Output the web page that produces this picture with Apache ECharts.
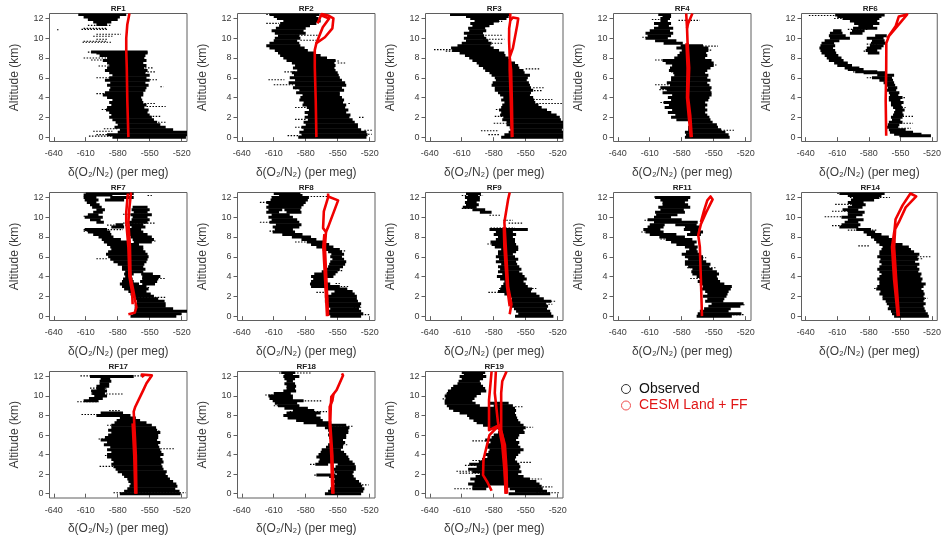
<!DOCTYPE html>
<html><head><meta charset="utf-8">
<style>html,body{margin:0;padding:0;background:#fff}#c{width:944px;height:536px}</style>
<script src="https://cdn.jsdelivr.net/npm/echarts@6/dist/echarts.min.js"></script>
</head><body><div id="c"></div>
<script>
const flightNames=['RF1','RF2','RF3','RF4','RF6','RF7','RF8','RF9','RF11','RF14','RF17','RF18','RF19'];
const xTickValues=[-640,-610,-580,-550,-520];
const yTickValues=[0,2,4,6,8,10,12];
const legendNames=['Observed','CESM Land + FF'];

// Observed: dense cloud [altitude, left, right]
const obsRF1=[[0,-585,-516],[0.25,-590,-515],[0.5,-580,-515],[0.75,-578,-528],[1,-583,-535],[1.25,-580,-540],[1.5,-582,-543],[1.75,-585,-546],[2,-588,-548],[2.25,-586,-550],[2.5,-588,-552],[2.75,-591,-551],[3,-590,-555],[3.25,-586,-553],[3.5,-588,-556],[3.75,-585,-557],[4,-590,-558],[4.25,-594,-556],[4.5,-592,-556],[4.75,-588,-554],[5,-587,-553],[5.25,-590,-551],[5.5,-587,-554],[5.75,-592,-550],[6,-588,-553],[6.25,-585,-550],[6.5,-588,-554],[6.75,-592,-552],[7,-590,-555],[7.25,-588,-553],[7.5,-590,-556],[7.75,-594,-553],[8,-590,-555],[8.25,-597,-554],[8.5,-600,-552],[8.6,-605,-552],[11.4,-600,-590],[11.65,-603,-586],[11.9,-608,-580],[12.15,-612,-578],[12.4,-617,-572]];
const obsRF2=[[0,-587,-523],[0.25,-584,-522],[0.5,-586,-523],[0.75,-582,-528],[1,-584,-531],[1.25,-580,-531],[1.5,-582,-534],[1.75,-578,-536],[2,-581,-539],[2.25,-578,-538],[2.5,-581,-542],[2.75,-577,-540],[3,-579,-543],[3.25,-583,-542],[3.5,-582,-545],[3.75,-586,-544],[4,-585,-546],[4.25,-583,-548],[4.5,-589,-548],[4.75,-586,-544],[5,-592,-546],[5.25,-590,-542],[5.5,-596,-543],[5.75,-590,-546],[6,-595,-548],[6.25,-591,-549],[6.5,-593,-550],[6.75,-588,-552],[7,-592,-553],[7.25,-590,-552],[7.5,-593,-553],[7.75,-598,-552],[8,-601,-560],[8.25,-604,-566],[8.5,-606,-572],[8.75,-609,-578],[9,-614,-581],[9.25,-617,-585],[9.5,-614,-586],[9.75,-610,-588],[10,-609,-585],[10.25,-606,-586],[10.5,-609,-580],[10.75,-612,-582],[11,-608,-580],[11.25,-605,-576],[11.5,-604,-570],[11.75,-601,-566],[12,-607,-568],[12.2,-610,-570],[12.4,-614,-567]];
const obsRF3=[[0,-573,-515],[0.25,-570,-515],[0.5,-566,-515],[0.75,-564,-516],[1,-565,-515],[1.25,-568,-515],[1.5,-568,-515],[1.75,-572,-517],[2,-571,-518],[2.25,-574,-521],[2.5,-573,-526],[2.75,-575,-530],[3,-573,-535],[3.25,-572,-538],[3.5,-570,-541],[3.75,-573,-542],[4,-571,-543],[4.25,-574,-546],[4.5,-576,-545],[4.75,-579,-543],[5,-579,-545],[5.25,-582,-546],[5.5,-581,-547],[5.75,-578,-549],[6,-579,-548],[6.25,-582,-546],[6.5,-584,-551],[6.75,-588,-552],[7,-590,-556],[7.25,-594,-557],[7.5,-596,-560],[7.75,-600,-564],[8,-603,-566],[8.25,-607,-569],[8.5,-612,-570],[8.75,-619,-575],[9,-620,-580],[9.25,-614,-583],[9.5,-610,-582],[9.75,-606,-585],[10,-608,-587],[10.25,-605,-589],[10.5,-608,-590],[10.75,-603,-587],[11,-604,-588],[11.25,-600,-584],[11.5,-602,-580],[11.75,-598,-575],[12,-602,-568],[12.2,-606,-566],[12.4,-621,-565]];
const obsRF4=[[0,-577,-535],[0.25,-576,-536],[0.5,-577,-539],[0.75,-574,-543],[1,-574,-546],[1.25,-572,-547],[1.5,-571,-551],[1.75,-585,-553],[2,-590,-554],[2.25,-586,-556],[2.5,-593,-558],[2.75,-589,-556],[3,-596,-558],[3.25,-592,-556],[3.5,-597,-558],[3.75,-590,-555],[4,-593,-554],[4.25,-589,-552],[4.5,-598,-552],[4.75,-594,-553],[5,-600,-552],[5.25,-591,-554],[5.5,-594,-556],[5.75,-590,-553],[6,-590,-556],[6.25,-587,-555],[6.5,-588,-558],[6.75,-592,-556],[7,-591,-553],[7.25,-589,-550],[7.5,-595,-550],[7.75,-598,-552],[8,-587,-558],[8.25,-584,-556],[8.5,-582,-557],[8.75,-580,-555],[9,-585,-555],[9.25,-581,-560],[9.5,-597,-579],[9.75,-605,-585],[10,-614,-593],[10.25,-612,-590],[10.5,-614,-588],[10.75,-610,-591],[11,-606,-588],[11.25,-602,-592],[11.5,-606,-590],[11.75,-600,-593],[12,-600,-591],[12.2,-598,-590],[12.4,-602,-590]];
const obsRF6=[[0.15,-551,-521],[0.3,-556,-530],[0.5,-560,-538],[0.75,-561,-545],[1,-564,-552],[1.25,-562,-551],[1.5,-561,-548],[1.75,-558,-550],[2,-559,-548],[2.25,-557,-547],[2.5,-556,-548],[2.75,-555,-546],[3,-557,-548],[3.25,-559,-549],[3.5,-559,-547],[3.75,-561,-550],[4,-561,-548],[4.25,-560,-552],[4.5,-561,-551],[4.75,-563,-554],[5,-562,-553],[5.25,-564,-555],[5.5,-566,-556],[5.75,-570,-557],[6,-577,-558],[6.25,-572,-556],[6.5,-585,-563],[6.6,-593,-572],[6.85,-600,-585],[7,-603,-589],[7.25,-610,-596],[7.5,-613,-600],[7.75,-618,-604],[8,-620,-606],[8.25,-622,-609],[8.5,-625,-611],[8.75,-626,-612],[8.5,-581,-570],[8.75,-583,-572],[9,-627,-614],[9,-582,-568],[9.25,-626,-612],[9.25,-579,-566],[9.5,-625,-613],[9.5,-578,-564],[9.75,-622,-608],[9.75,-577,-565],[10,-617,-598],[10,-582,-566],[10.25,-618,-602],[10.25,-574,-563],[10.5,-617,-605],[10.5,-598,-586],[10.75,-614,-606],[10.75,-596,-584],[11,-595,-572],[11.25,-590,-576],[11.5,-594,-570],[11.75,-598,-572],[12,-605,-570],[12.2,-610,-568],[12.35,-612,-565]];
const obsRF7=[[0,-568,-525],[0.25,-566,-520],[0.5,-564,-515],[0.75,-564,-528],[1,-564,-535],[1.25,-562,-535],[1.5,-562,-536],[1.75,-565,-542],[2,-567,-546],[2.25,-568,-549],[2.5,-570,-553],[2.75,-574,-551],[3,-576,-553],[3.25,-578,-560],[3.25,-557,-545],[3.5,-576,-565],[3.5,-559,-543],[3.75,-575,-566],[3.75,-557,-542],[4,-573,-567],[4,-557,-540],[4.25,-574,-565],[4.25,-558,-547],[4.5,-573,-556],[4.75,-576,-554],[5,-576,-556],[5.25,-580,-555],[5.5,-584,-553],[5.75,-587,-552],[6,-589,-551],[6.25,-591,-552],[6.5,-589,-554],[6.75,-586,-556],[7,-587,-556],[7.25,-590,-560],[7.5,-593,-568],[7.5,-565,-548],[7.75,-595,-577],[7.75,-566,-546],[8,-598,-584],[8,-568,-548],[8.25,-603,-586],[8.25,-570,-552],[8.5,-608,-587],[8.5,-570,-556],[8.75,-611,-590],[8.75,-569,-558],[9,-586,-574],[9,-567,-554],[9.25,-582,-575],[9.25,-569,-556],[9.5,-600,-593],[9.5,-570,-552],[9.75,-606,-596],[9.75,-567,-550],[10,-611,-594],[10,-566,-552],[10.25,-608,-598],[10.25,-568,-548],[10.5,-603,-594],[10.5,-565,-552],[10.75,-600,-592],[10.75,-567,-550],[11,-604,-595],[11,-566,-552],[11.25,-606,-597],[11.5,-609,-600],[11.75,-611,-598],[11.75,-592,-574],[12,-612,-600],[12,-587,-565],[12.25,-612,-585],[12.4,-610,-565]];
const obsRF8=[[0,-557,-528],[0.25,-559,-526],[0.5,-559,-528],[0.75,-557,-530],[1,-559,-529],[1.25,-561,-528],[1.5,-562,-531],[1.75,-559,-532],[2,-562,-532],[2.25,-556,-534],[2.5,-553,-536],[2.75,-562,-541],[3,-575,-548],[3.25,-576,-557],[3.5,-575,-562],[3.75,-573,-560],[4,-575,-554],[4.25,-572,-552],[4.5,-565,-550],[4.75,-562,-548],[5,-559,-545],[5.25,-558,-543],[5.5,-557,-542],[5.75,-555,-544],[6,-557,-546],[6.25,-556,-544],[6.5,-559,-546],[6.75,-564,-548],[7,-570,-554],[7.25,-575,-558],[7.5,-579,-562],[7.75,-584,-570],[8,-593,-575],[8.25,-602,-583],[8.5,-611,-590],[8.75,-609,-592],[9,-611,-586],[9.25,-608,-584],[9.5,-614,-586],[9.75,-612,-588],[10,-615,-592],[10.25,-612,-595],[10.5,-617,-605],[10.5,-598,-584],[10.75,-615,-602],[10.75,-600,-585],[11,-617,-584],[11.25,-615,-582],[11.5,-617,-580],[11.75,-613,-578],[12,-612,-577],[12.2,-605,-583],[12.4,-610,-585]];
const obsRF9=[[0,-560,-524],[0.25,-557,-526],[0.5,-559,-527],[0.75,-561,-530],[1,-563,-529],[1.25,-565,-531],[1.5,-566,-526],[1.75,-563,-533],[2,-566,-537],[2.25,-570,-540],[2.5,-576,-545],[2.75,-574,-544],[3,-573,-548],[3.25,-571,-550],[3.5,-570,-552],[3.75,-574,-549],[4,-577,-551],[4.25,-572,-553],[4.5,-576,-556],[4.75,-574,-554],[5,-576,-556],[5.25,-573,-558],[5.5,-578,-559],[5.75,-575,-557],[6,-578,-560],[6.25,-576,-562],[6.5,-576,-559],[6.75,-573,-557],[7,-579,-557],[7.25,-582,-559],[7.5,-583,-560],[7.75,-578,-560],[8,-576,-562],[8.25,-580,-559],[8.5,-578,-562],[8.75,-584,-548],[10.5,-593,-582],[10.75,-600,-588],[11,-609,-596],[11.25,-606,-594],[11.5,-607,-596],[11.75,-605,-593],[12,-607,-593],[12.2,-604,-595],[12.4,-606,-592]];
const obsRF11=[[0,-566,-533],[0.25,-565,-524],[0.5,-563,-536],[0.75,-559,-534],[1,-555,-525],[1.25,-552,-522],[1.5,-558,-541],[1.75,-556,-540],[2,-560,-538],[2.25,-556,-537],[2.5,-558,-536],[2.75,-561,-534],[3,-560,-533],[3.25,-563,-540],[3.5,-565,-544],[3.75,-563,-546],[4,-566,-547],[4.25,-570,-545],[4.5,-571,-547],[4.75,-570,-551],[5,-574,-554],[5.25,-577,-553],[5.5,-577,-557],[5.75,-574,-560],[6,-577,-560],[6.25,-580,-562],[6.5,-576,-565],[6.75,-573,-566],[7,-577,-565],[7.25,-585,-568],[7.5,-590,-566],[7.75,-595,-570],[8,-601,-577],[8.25,-610,-585],[8.25,-575,-562],[8.5,-614,-597],[8.5,-572,-560],[8.75,-616,-600],[8.75,-578,-564],[9,-612,-597],[9,-577,-563],[9.25,-610,-596],[9.25,-586,-566],[9.5,-606,-565],[9.75,-612,-580],[10,-606,-590],[10.25,-604,-584],[10.5,-605,-577],[10.75,-600,-578],[11,-602,-572],[11.25,-598,-574],[11.5,-598,-577],[11.75,-600,-574],[12,-605,-572]];
const obsRF14=[[0,-556,-523],[0.25,-558,-524],[0.5,-559,-526],[0.75,-562,-527],[1,-561,-528],[1.25,-563,-526],[1.5,-564,-528],[1.75,-567,-527],[2,-567,-528],[2.25,-570,-527],[2.5,-569,-528],[2.75,-573,-530],[3,-572,-528],[3.25,-570,-526],[3.5,-570,-530],[3.75,-572,-529],[4,-570,-531],[4.25,-568,-530],[4.5,-570,-533],[4.75,-572,-532],[5,-570,-534],[5.25,-568,-532],[5.5,-570,-536],[5.75,-569,-533],[6,-572,-534],[6.25,-570,-532],[6.5,-570,-537],[6.75,-568,-540],[7,-567,-542],[7.25,-570,-548],[7.5,-573,-555],[7.75,-575,-558],[8,-578,-561],[8.25,-582,-568],[8.5,-585,-574],[8.75,-592,-578],[9,-608,-590],[9.25,-606,-588],[9.5,-603,-590],[9.75,-600,-585],[10,-606,-592],[10.25,-600,-586],[10.5,-600,-584],[10.75,-605,-590],[11,-600,-586],[11.25,-596,-583],[11.5,-600,-585],[11.75,-597,-575],[12,-595,-570],[12.2,-600,-568],[12.4,-608,-565]];
const obsRF17=[[0,-578,-521],[0.25,-574,-522],[0.5,-571,-526],[0.75,-569,-524],[1,-568,-525],[1.25,-570,-528],[1.5,-571,-531],[1.75,-574,-533],[2,-576,-535],[2.25,-580,-534],[2.5,-582,-537],[2.75,-584,-538],[3,-586,-539],[3.25,-584,-537],[3.5,-586,-538],[3.75,-590,-540],[4,-590,-537],[4.25,-586,-539],[4.5,-590,-540],[4.75,-587,-541],[5,-593,-542],[5.25,-590,-540],[5.5,-596,-543],[5.75,-592,-542],[6,-589,-542],[6.25,-586,-540],[6.5,-589,-543],[6.75,-586,-544],[7,-586,-548],[7.25,-583,-553],[7.5,-581,-559],[7.75,-578,-563],[8,-600,-568],[8.25,-596,-575],[9.5,-612,-598],[9.75,-607,-594],[10,-602,-590],[10.25,-604,-592],[10.5,-605,-590],[10.75,-600,-592],[11,-600,-588],[11.25,-597,-588],[11.5,-597,-586],[11.75,-596,-587],[12,-606,-565]];
const obsRF18=[[0,-562,-528],[0.25,-559,-526],[0.5,-557,-525],[0.75,-555,-527],[1,-553,-528],[1.25,-556,-530],[1.5,-553,-533],[1.75,-558,-535],[1.9,-570,-552],[2,-551,-536],[2.25,-553,-535],[2.5,-555,-533],[2.75,-552,-533],[3,-571,-559],[3,-550,-534],[3.25,-568,-536],[3.5,-567,-539],[3.75,-570,-540],[4,-568,-542],[4.25,-566,-544],[4.5,-565,-547],[4.75,-561,-545],[5,-559,-545],[5.25,-557,-543],[5.5,-557,-545],[5.75,-558,-542],[6,-559,-542],[6.25,-556,-540],[6.5,-559,-540],[6.75,-562,-539],[7,-570,-542],[7.25,-582,-556],[7.5,-589,-564],[7.75,-597,-566],[8,-601,-570],[8.25,-598,-566],[8.5,-592,-572],[8.75,-600,-578],[9,-606,-586],[9.25,-609,-588],[9.5,-611,-582],[9.75,-614,-592],[10,-615,-592],[10.25,-610,-594],[10.5,-601,-589],[10.75,-598,-590],[11,-598,-589],[11.25,-600,-590],[11.5,-598,-592],[11.75,-600,-590],[12,-601,-586],[12.2,-600,-592],[12.4,-603,-590]];
const obsRF19=[[0,-566,-527],[0.25,-560,-530],[0.5,-600,-587],[0.5,-565,-534],[0.75,-600,-585],[0.75,-570,-535],[1,-604,-537],[1.25,-598,-540],[1.5,-602,-546],[1.75,-597,-552],[2,-593,-557],[2.25,-600,-554],[2.5,-604,-556],[2.75,-596,-555],[3,-603,-556],[3.25,-594,-558],[3.5,-591,-560],[3.75,-586,-559],[4,-588,-557],[4.25,-585,-555],[4.5,-584,-552],[4.75,-586,-555],[5,-587,-557],[5.25,-583,-556],[5.5,-588,-559],[5.75,-582,-557],[6,-580,-556],[6.25,-576,-551],[6.5,-574,-552],[6.75,-585,-550],[7,-590,-552],[7.25,-596,-555],[7.5,-599,-557],[7.75,-603,-558],[8,-605,-559],[8.25,-612,-560],[8.5,-618,-559],[8.75,-622,-560],[9,-624,-593],[9,-580,-562],[9.25,-626,-597],[9.25,-585,-566],[9.5,-626,-600],[9.75,-625,-598],[10,-626,-596],[10.25,-624,-592],[10.5,-623,-587],[10.75,-620,-588],[11,-618,-590],[11.25,-614,-592],[11.5,-613,-593],[11.75,-610,-590],[12,-612,-587],[12.2,-608,-590],[12.4,-610,-588]];

// Observed: loose rows of dots around the cloud [altitude, left, right]
const fringeRF1=[[0.1,-607,-585],[0.25,-600,-585],[0.6,-603,-585],[0.85,-593,-580],[1.5,-545,-535],[2.1,-550,-540],[2.8,-595,-585],[3.1,-553,-535],[3.4,-555,-545],[4.4,-600,-590],[5.1,-540,-537],[5.8,-553,-543],[6,-600,-585],[6.6,-555,-545],[7,-560,-546],[7.2,-598,-588],[7.8,-605,-590],[8,-612,-590],[8.6,-608,-595],[9.6,-613,-585],[9.7,-612,-590],[9.9,-600,-590],[10.2,-603,-585],[10.4,-600,-577],[10.9,-614,-590],[10.85,-637,-635],[11,-612,-590],[11.3,-608,-586]];
const fringeRF2=[[0.15,-597,-585],[0.3,-530,-518],[0.7,-525,-517],[1,-590,-580],[1.8,-590,-580],[2,-530,-525],[3,-590,-578],[3.4,-540,-538],[4.9,-590,-575],[5.3,-610,-590],[5.8,-615,-600],[6.6,-600,-590],[7.5,-550,-543],[7.7,-570,-548],[9.8,-585,-570],[10.3,-590,-568],[11.5,-617,-605],[12.4,-617,-600]];
const fringeRF3=[[0.25,-585,-575],[0.65,-592,-575],[1.4,-580,-568],[2.1,-579,-568],[2.8,-578,-570],[3.4,-540,-516],[3.8,-543,-525],[5,-543,-533],[4.7,-545,-535],[6.9,-550,-536],[8.85,-636,-620],[8.7,-625,-610],[9.5,-582,-572],[9.9,-590,-570],[10.3,-588,-572],[11.7,-590,-572],[12.15,-590,-570]];
const fringeRF4=[[0.7,-552,-531],[0.25,-550,-537],[3.5,-600,-590],[4.8,-601,-585],[5.3,-605,-590],[6.6,-590,-585],[7.3,-560,-546],[7.8,-605,-580],[8.8,-565,-552],[9.2,-572,-546],[11.8,-583,-563],[11.9,-608,-600],[10.1,-617,-610]];
const fringeRF6=[[0.9,-552,-540],[1.4,-550,-538],[2.1,-548,-538],[3,-549,-545],[4,-550,-545],[6,-582,-570],[6.6,-595,-578],[12.3,-637,-605],[12,-613,-600],[10.9,-600,-580],[9.4,-582,-570],[8.7,-585,-575]];
const fringeRF7=[[1.9,-565,-535],[2.9,-566,-550],[3.8,-557,-535],[8.75,-612,-575],[8.6,-612,-590],[9.2,-590,-570],[9.4,-575,-545],[10.1,-612,-600],[10.3,-575,-550],[12.2,-552,-548],[7.6,-560,-544],[5.8,-600,-590]];
const fringeRF8=[[0.15,-550,-520],[0.9,-535,-527],[3,-550,-540],[2.4,-570,-560],[3.3,-552,-548],[4.6,-550,-545],[11.5,-623,-600],[12.1,-612,-560],[9.5,-623,-610],[8.6,-614,-606],[7.5,-590,-575],[6.6,-550,-543]];
const fringeRF9=[[1.5,-566,-521],[1.2,-540,-525],[2.4,-585,-570],[2.8,-575,-540],[7.3,-586,-570],[8.9,-583,-560],[9.4,-566,-552],[9.7,-571,-562],[10.2,-584,-574],[12.2,-610,-590],[10.9,-610,-598]];
const fringeRF11=[[0.15,-560,-522],[1.15,-545,-520],[2.9,-560,-532],[4.9,-575,-548],[9.7,-615,-600],[8.5,-618,-600],[7.8,-600,-575],[3.8,-572,-560],[12.05,-606,-572],[5.9,-575,-557]];
const fringeRF14=[[6,-560,-521],[5.8,-545,-528],[1.8,-530,-524],[2.8,-575,-560],[7.1,-590,-580],[10.05,-622,-600],[9.15,-615,-590],[8.7,-600,-572],[10.6,-615,-595],[11.3,-612,-585],[12.4,-610,-570],[12,-598,-560]];
const fringeRF17=[[0.1,-584,-516],[2.8,-597,-582],[3.9,-592,-575],[4.6,-540,-526],[5.6,-598,-585],[7,-590,-575],[8.1,-614,-575],[8.5,-588,-578],[9.4,-618,-598],[10.2,-605,-575],[10.8,-606,-590],[12.05,-615,-555],[6.4,-545,-540]];
const fringeRF18=[[0.9,-530,-521],[1.9,-572,-558],[3,-576,-560],[5,-548,-540],[7.7,-595,-570],[8.4,-595,-560],[9,-610,-585],[9.5,-595,-565],[10.1,-618,-600],[12.35,-605,-575],[6.9,-560,-535]];
const fringeRF19=[[0.5,-617,-590],[0.1,-540,-518],[0.7,-540,-525],[1.2,-595,-580],[1.5,-550,-535],[2.1,-612,-590],[2.3,-615,-595],[2.9,-607,-590],[3.2,-555,-545],[3.4,-600,-590],[6.8,-555,-543],[5.4,-600,-585],[8.9,-560,-553],[9.7,-628,-610],[10.2,-625,-610]];

// CESM Land + FF: one or more traced paths [value, altitude]
const modelRF1=[[[-570,0],[-571,3.7],[-571.5,7],[-572,8.8],[-572,10],[-571,11.4],[-569,12.5]]];
const modelRF2=[[[-570,0],[-570.6,3.7],[-571.5,7.1],[-571.5,8.8],[-570,9.5],[-562,10.1],[-555,11],[-554,12],[-559,12.3],[-565,12.45],[-569,11.5]],[[-570,9.5],[-567,10.3],[-564,11.1],[-558,12],[-565,12.3]]];
const modelRF3=[[[-562.4,0],[-563,3.7],[-563.7,6.8],[-565,8.1],[-565.6,9.8],[-565.5,11],[-564.4,11.8],[-562,12.1],[-557,12],[-558,11.3],[-562,9],[-565,8.1],[-565,6.8],[-564,3.7],[-563,0]],[[-564.4,11.8],[-564.5,12.5]]];
const modelRF4=[[[-570.6,0],[-572,2.2],[-574,4],[-573,7],[-574.5,9.5],[-575,11],[-575.8,12.5]],[[-575,11],[-574,11.5],[-570,12.5]],[[-571.5,0],[-573.5,2.2],[-575,4],[-574.5,7],[-575.5,9.5]]];
const modelRF6=[[[-563.5,0.15],[-564,3.7],[-563.5,7],[-563.4,9.5],[-561,10.2],[-551.5,11.4],[-543.6,12.4],[-551.5,12.2],[-554.6,11.2],[-562.5,10]]];
const modelRF7=[[[-570,0.2],[-564,0.35],[-562.5,0.9],[-565,2.4],[-568,4],[-568.5,7],[-570,9.5],[-569,11],[-567.5,12.5]],[[-566,1.2],[-566.5,2.4],[-569,4],[-570,7],[-572,9.5],[-572,10.5],[-570.5,12.4]]];
const modelRF8=[[[-559,0],[-560.6,3.7],[-562,7],[-561,8.5],[-563.7,8.9],[-563,10.6],[-559,12],[-559,12.4]],[[-561,8.5],[-559,9],[-549.6,11.7],[-559,12.1]],[[-560,0],[-561.8,3.7],[-563.5,7],[-562.5,8.3]]];
const modelRF9=[[[-565,0.2],[-563.4,1.2],[-566.5,3],[-568.7,7],[-570,9.5],[-566.5,11.8],[-565,12.5]],[[-565,1],[-567.5,3],[-570,7],[-570.5,9]]];
const modelRF11=[[[-561,0],[-562,3.7],[-563,7],[-564.5,8.2],[-562,9.3],[-557,10.5],[-551,11.8],[-553,12.1],[-556,11.7],[-559,10.7],[-562,9.5]]];
const modelRF14=[[[-551.5,0],[-554,3.7],[-556,7],[-555,8.8],[-551.5,9.5],[-545,11],[-535,12.1],[-540.5,12.4],[-548,11.2],[-554.6,9.8],[-555.5,8.8],[-558,7],[-556,3.7],[-552.5,0]]];
const modelRF17=[[[-562.5,0],[-563,3.9],[-564.5,7.2],[-565,8.4],[-563.5,8.9],[-556,10.6],[-553,11.3],[-548,12.1],[-557.4,12.2],[-556,11.9]],[[-563.5,0],[-564.5,3.9],[-566,7.2]]];
const modelRF18=[[[-554,0],[-555,3.9],[-557,7.2],[-556.5,8.9],[-556,9.9],[-551,10.6],[-545,12.1],[-546,12.3]],[[-557.5,7.2],[-557.5,8.9],[-555,9.5],[-554,10.2]],[[-555,0],[-556,3.9],[-557.5,7.2]]];
const modelRF19=[[[-568.7,0],[-570,2.5],[-572,5],[-576,7.3],[-579,10.3],[-578,12.5]],[[-568.7,0],[-569.5,2.9],[-571,5.5],[-573,6.5],[-573,10.3],[-572,11.5],[-568,12.5]],[[-582,0.3],[-586,1.2],[-590,1.9],[-589.6,3.5],[-584,6],[-575,7],[-584.4,6.5],[-584.4,9.6],[-582,12.5]],[[-567.5,0],[-568,2.5],[-569.5,5],[-574,6.8]]];

const observed=[obsRF1,obsRF2,obsRF3,obsRF4,obsRF6,obsRF7,obsRF8,obsRF9,obsRF11,obsRF14,obsRF17,obsRF18,obsRF19];
const fringes=[fringeRF1,fringeRF2,fringeRF3,fringeRF4,fringeRF6,fringeRF7,fringeRF8,fringeRF9,fringeRF11,fringeRF14,fringeRF17,fringeRF18,fringeRF19];
const models=[modelRF1,modelRF2,modelRF3,modelRF4,modelRF6,modelRF7,modelRF8,modelRF9,modelRF11,modelRF14,modelRF17,modelRF18,modelRF19];

const colLefts=[49.5,237.5,425.5,613.5,801.5], rowTops=[13.5,192.5,371.5], W=137.5, H=128;
const axisColor='#5f5f5f', textColor='#3a3a3a', font='"Liberation Sans",Arial,sans-serif';
const grid=[],xAxis=[],yAxis=[],title=[],series=[];

function bandItem(params,api){
  const a=api.coord([api.value(1),api.value(0)]), b=api.coord([api.value(2),api.value(0)]);
  return {type:'rect',shape:{x:a[0],y:a[1]-1.5,width:b[0]-a[0],height:3},style:{fill:'#000'}};
}
function fringeItem(params,api){
  const a=api.coord([api.value(1),api.value(0)]), b=api.coord([api.value(2),api.value(0)]);
  return {type:'line',shape:{x1:a[0],y1:a[1],x2:b[0],y2:b[1]},style:{stroke:'#000',lineWidth:1.1,lineDash:[1.5,1.5],fill:null}};
}

flightNames.forEach((nm,i)=>{
  const L=colLefts[i%5],T=rowTops[Math.floor(i/5)];
  grid.push({left:L,top:T,width:W,height:H,show:true,borderColor:axisColor,borderWidth:1,backgroundColor:'#fff'});
  title.push({text:nm,left:L+W/2,top:T-9,padding:0,textAlign:'center',textStyle:{fontFamily:font,fontSize:8,fontWeight:'bold',color:'#222'}});
  xAxis.push({type:'value',gridIndex:i,min:-644,max:-515,position:'bottom',
    name:'δ(O₂/N₂) (per meg)',nameLocation:'middle',nameGap:25,
    nameTextStyle:{fontFamily:font,fontSize:12,color:textColor},
    axisLine:{show:false},splitLine:{show:false},
    axisTick:{show:true,length:4,customValues:xTickValues,lineStyle:{color:axisColor,width:1}},
    axisLabel:{customValues:xTickValues,margin:8,fontFamily:font,fontSize:9,color:textColor}});
  yAxis.push({type:'value',gridIndex:i,min:-0.44,max:12.5,
    name:'Altitude (km)',nameLocation:'middle',nameGap:29,
    nameTextStyle:{fontFamily:font,fontSize:12,color:textColor},
    axisLine:{show:false},splitLine:{show:false},
    axisTick:{show:true,length:4,customValues:yTickValues,lineStyle:{color:axisColor,width:1}},
    axisLabel:{customValues:yTickValues,margin:6,fontFamily:font,fontSize:9,color:textColor}});
  series.push({type:'custom',name:legendNames[0],xAxisIndex:i,yAxisIndex:i,clip:true,silent:true,animation:false,
    renderItem:bandItem,encode:{x:[1,2],y:0},data:observed[i],z:2,itemStyle:{color:'#000'}});
  series.push({type:'custom',name:legendNames[0],xAxisIndex:i,yAxisIndex:i,clip:true,silent:true,animation:false,
    renderItem:fringeItem,encode:{x:[1,2],y:0},data:fringes[i],z:2,itemStyle:{color:'#000'}});
  models[i].forEach(path=>series.push({type:'line',name:legendNames[1],xAxisIndex:i,yAxisIndex:i,data:path,
    showSymbol:false,silent:true,animation:false,clip:true,z:3,
    lineStyle:{color:'#f00000',width:2.6,join:'round'},itemStyle:{color:'#f00000'}}));
});

const chart=echarts.init(document.getElementById('c'),null,{renderer:'canvas'});
chart.setOption({animation:false,backgroundColor:'#fff',grid,xAxis,yAxis,title,series,tooltip:{show:false},
  legend:{left:616,top:377,orient:'vertical',itemWidth:16,itemHeight:9,itemGap:2.5,selectedMode:false,
    textStyle:{fontFamily:font,fontSize:14},
    data:[
      {name:legendNames[0],icon:'circle',itemStyle:{color:'transparent',borderColor:'#333',borderWidth:1},textStyle:{color:'#111'}},
      {name:legendNames[1],icon:'circle',itemStyle:{color:'transparent',borderColor:'#f05050',borderWidth:1},textStyle:{color:'#e01515'}}
    ]}
});
</script></body></html>
